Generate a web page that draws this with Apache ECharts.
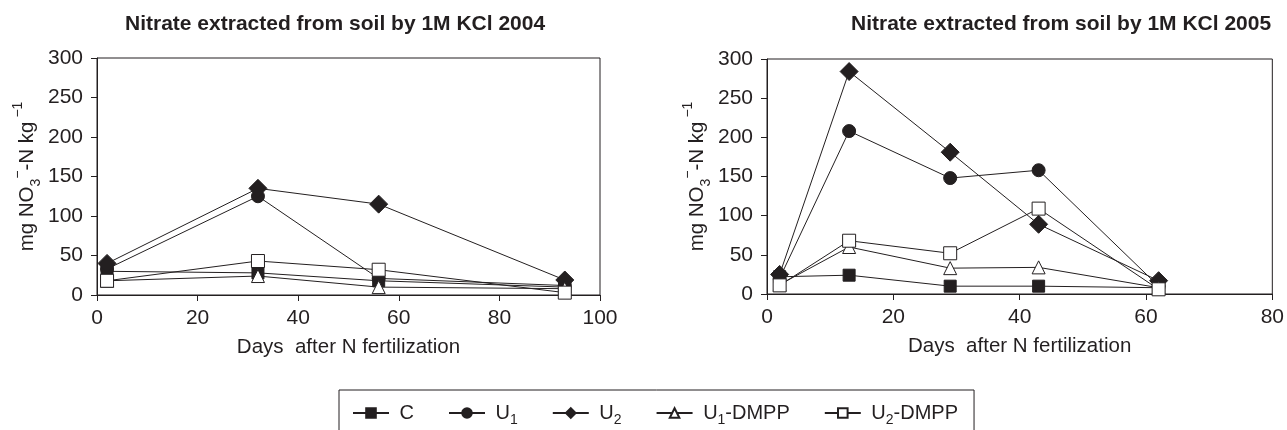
<!DOCTYPE html>
<html>
<head>
<meta charset="utf-8">
<script src="https://cdn.jsdelivr.net/npm/echarts@6/dist/echarts.min.js"></script>
<style>
  html, body { margin: 0; padding: 0; background: #fff; }
  #main { width: 1287px; height: 430px; }
</style>
</head>
<body>
<div id="main"></div>
<script>
// 2004 sampling days and values
var days2004 = [2, 32, 56, 93];
var c2004 = [30, 28, 18, 10];
var u1_2004 = [33, 125, 21, 12];
var u2_2004 = [40, 135, 115, 19];
var u1d2004 = [18, 24, 10, 8];
var u2d2004 = [18, 43, 32, 3];

// 2005 sampling days and values
var days2005 = [2, 13, 29, 43, 62];
var c2005 = [22, 24, 10, 10, 8];
var u1_2005 = [20, 208, 148, 158, 10];
var u2_2005 = [25, 284, 181, 89, 17];
var u1d2005 = [12, 60, 33, 34, 8];
var u2d2005 = [11, 68, 52, 109, 6];

var seriesNames = ['C', 'U1', 'U2', 'U1-DMPP', 'U2-DMPP'];
var titles = ['Nitrate extracted from soil by 1M KCl 2004', 'Nitrate extracted from soil by 1M KCl 2005'];
var xName = 'Days  after N fertilization';

var ink = '#231f20';
var font = 'Liberation Sans, Arial, sans-serif';

// marker look per series
var marks = {
  'C':       { symbol: 'rect',     size: 12, fill: ink },
  'U1':      { symbol: 'circle',   size: 13, fill: ink },
  'U2':      { symbol: 'diamond',  size: 18, fill: ink },
  'U1-DMPP': { symbol: 'triangle', size: 13, fill: '#fff' },
  'U2-DMPP': { symbol: 'rect',     size: 13, fill: '#fff' }
};

function pairs(xs, ys) {
  return xs.map(function (x, i) { return [x, ys[i]]; });
}

function makeSeries(name, xs, ys, idx) {
  var m = marks[name];
  return {
    name: name,
    type: 'line',
    xAxisIndex: idx,
    yAxisIndex: idx,
    data: pairs(xs, ys),
    symbol: m.symbol,
    symbolSize: m.size,
    showAllSymbol: true,
    lineStyle: { color: ink, width: 1 },
    itemStyle: { color: m.fill, borderColor: ink, borderWidth: 1 },
    emphasis: { disabled: true },
    animation: false
  };
}

var sets2004 = [c2004, u1_2004, u2_2004, u1d2004, u2d2004];
var sets2005 = [c2005, u1_2005, u2_2005, u1d2005, u2d2005];
var series = [];
seriesNames.forEach(function (n, i) { series.push(makeSeries(n, days2004, sets2004[i], 0)); });
seriesNames.forEach(function (n, i) { series.push(makeSeries(n, days2005, sets2005[i], 1)); });

function xAxis(idx, max) {
  return {
    gridIndex: idx, type: 'value', min: 0, max: max, interval: 20,
    name: xName, nameLocation: 'middle', nameGap: 42,
    nameTextStyle: { color: ink, fontSize: 20.5, fontFamily: font },
    axisLine: { lineStyle: { color: ink, width: 1 } },
    axisTick: { length: 6, lineStyle: { color: ink } },
    axisLabel: { color: ink, fontSize: 21, fontFamily: font, margin: 13 },
    splitLine: { show: false }
  };
}

function yAxis(idx) {
  return {
    gridIndex: idx, type: 'value', min: 0, max: 300, interval: 50,
    name: 'mg NO{sub|3}{sup|−}-N kg{sup| −1}', nameLocation: 'middle', nameRotate: 90, nameGap: 54,
    nameTextStyle: {
      color: ink, fontSize: 20.5, fontFamily: font, lineHeight: 32,
      rich: {
        sub: { fontSize: 14, fontFamily: font, color: ink, lineHeight: 16, verticalAlign: 'bottom' },
        sup: { fontSize: 14, fontFamily: font, color: ink, lineHeight: 16, verticalAlign: 'top' }
      }
    },
    axisLine: { show: true, lineStyle: { color: ink, width: 1 } },
    axisTick: { show: true, length: 6, lineStyle: { color: ink } },
    axisLabel: { color: ink, fontSize: 21, fontFamily: font, margin: 14 },
    splitLine: { show: false }
  };
}

var chart = echarts.init(document.getElementById('main'), null, { renderer: 'canvas' });
chart.setOption({
  backgroundColor: '#fff',
  animation: false,
  title: [
    { text: titles[0], left: 120, top: 9, textStyle: { color: ink, fontSize: 21, fontWeight: 'bold', fontFamily: font } },
    { text: titles[1], left: 846, top: 9, textStyle: { color: ink, fontSize: 21, fontWeight: 'bold', fontFamily: font } }
  ],
  grid: [
    { left: 97, right: 687, top: 58, bottom: 135, show: true, borderColor: ink, borderWidth: 1, backgroundColor: 'transparent' },
    { left: 767, right: 12, top: 59, bottom: 136, show: true, borderColor: ink, borderWidth: 1, backgroundColor: 'transparent' }
  ],
  xAxis: [xAxis(0, 100), xAxis(1, 80)],
  yAxis: [yAxis(0), yAxis(1)],
  legend: {
    data: seriesNames,
    left: 339, top: 390,
    padding: [9, 16, 12, 13],
    itemWidth: 36, itemHeight: 12, itemGap: 34,
    borderColor: ink, borderWidth: 1,
    selectedMode: false,
    formatter: function (name) {
      return ' ' + name.replace(/U(\d)/, 'U{s|$1}');
    },
    textStyle: {
      color: ink, fontSize: 20, fontFamily: font, lineHeight: 28,
      rich: { s: { fontSize: 14, fontFamily: font, color: ink, lineHeight: 14, verticalAlign: 'bottom' } }
    }
  },
  series: series
});
</script>
</body>
</html>
